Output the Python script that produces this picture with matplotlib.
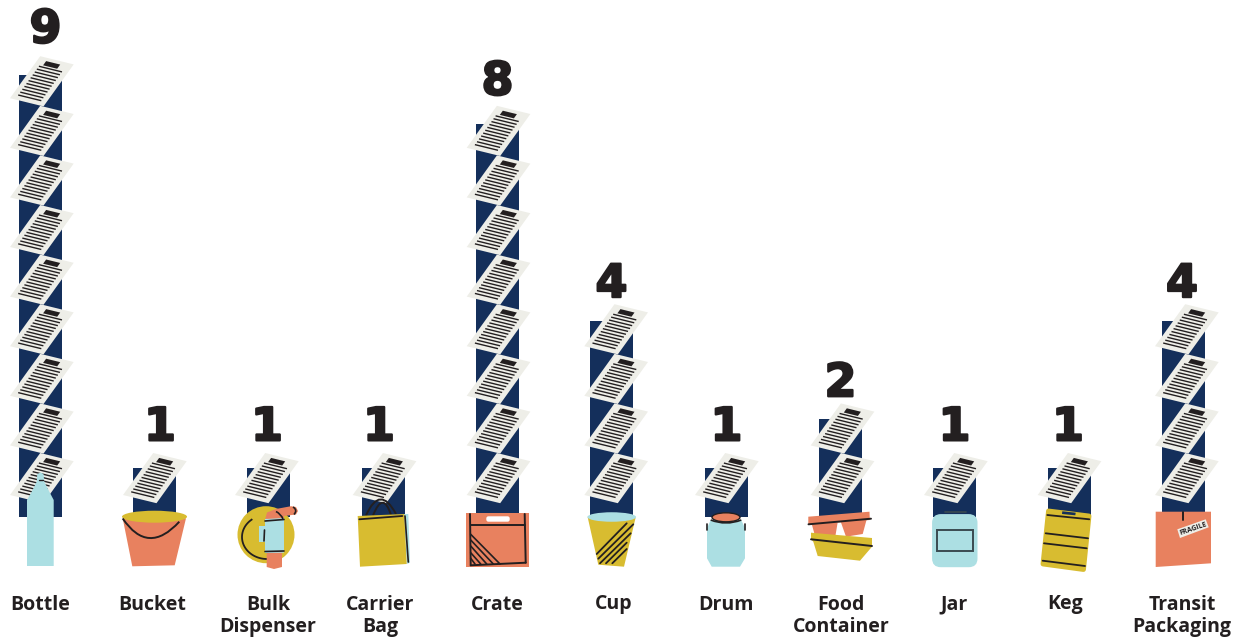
import numpy as np
import matplotlib
matplotlib.use("Agg")
import matplotlib.pyplot as plt
import matplotlib.patheffects as pe
from matplotlib.patches import Polygon, Ellipse, Circle, FancyBboxPatch, PathPatch, Rectangle
from matplotlib.path import Path

categories = ["Bottle", "Bucket", "Bulk\nDispenser", "Carrier\nBag", "Crate", "Cup",
              "Drum", "Food\nContainer", "Jar", "Keg", "Transit\nPackaging"]
counts = [9, 1, 1, 1, 8, 4, 1, 2, 1, 1, 4]

bar_x = [40.5, 154.5, 268.5, 383.5, 497.5, 611.5, 726.5, 840.5, 954.5, 1069.5, 1183.5]
paper_dx = [1, 0, -2, 0.7, 0.7, 4.3, 0, 1.7, 1, -0.3, 3]
label_dx = [5, 5.5, -1.5, -4.5, 0, 0, 0, 0, 0, -1.5, -1.5]
label_pad = [45, 40, 40, 40, 42, 36, 40, 35, 40, 40, 36]
text_x = [40, 152, 268, 380, 497, 614, 726, 841, 954, 1065, 1182]

NAVY = "#142F5B"
CORAL = "#E8815F"
YELLOW = "#D8BC30"
BLUE = "#ACDFE3"
PAPER = "#EEEEE8"
INK = "#231F20"

W, H = 1245, 637
BASE_Y = 517
UNIT = 49.1
PAPER_STEP = 49.6

fig = plt.figure(figsize=(W / 100, H / 100), dpi=100, facecolor="white")

# bars, value scale
ax = fig.add_axes([0, 0, 1, 1])
ax.set_xlim(0, W)
ax.set_ylim(-(H - BASE_Y) / UNIT, BASE_Y / UNIT)
ax.axis("off")
ax.bar(bar_x, counts, width=43, color=NAVY)

# papers and icons, pixel scale
deco = fig.add_axes([0, 0, 1, 1])
deco.set_xlim(0, W)
deco.set_ylim(H, 0)
deco.axis("off")
deco.patch.set_alpha(0)


def poly(pts, color, z=3):
    deco.add_patch(Polygon(pts, closed=True, facecolor=color, edgecolor="none", zorder=z))


def seg(x0, y0, x1, y1, lw=1.4, color=INK, z=5):
    deco.plot([x0, x1], [y0, y1], color=color, lw=lw, zorder=z, solid_capstyle="round")


def curve(p0, c, p1, lw=1.4, color=INK, z=5):
    path = Path([p0, c, p1], [Path.MOVETO, Path.CURVE3, Path.CURVE3])
    deco.add_patch(PathPatch(path, facecolor="none", edgecolor=color, lw=lw, zorder=z))


def paper(cx, y):
    # sheet is skewed, u runs along the lines and v up the page
    o = np.array([cx - 31.5, y + 27])
    u = np.array([33.5, 8.2])
    v = np.array([30.2, -42.0])
    at = lambda a, b: o + u * a + v * b
    poly([at(0, 0), at(1, 0), at(1, 1), at(0, 1)], PAPER, 2)
    poly([at(0.24, 0.93), at(0.66, 0.93), at(0.66, 0.83), at(0.24, 0.83)], INK, 2.5)
    for t in np.linspace(0.105, 0.79, 11):
        p = at(0.15, t)
        q = at(0.84, t)
        deco.plot([p[0], q[0]], [p[1], q[1]], color=INK, lw=1.0, zorder=2.5, solid_capstyle="butt")


for x, dx, n in zip(bar_x, paper_dx, counts):
    for k in range(n):
        paper(x + dx, 468 - PAPER_STEP * k)

# bottle
poly([(27, 566), (53.7, 566), (53.7, 500), (50, 493), (44.3, 481.7), (43.5, 474), (40.5, 472.5),
      (37.3, 474), (36.7, 481.7), (31, 493), (27, 500)], BLUE)
seg(38.5, 479.7, 42.7, 479.7, 1.0)

# bucket
poly([(122.7, 518.3), (186, 518.3), (174.7, 565.3), (132.3, 566.3)], CORAL)
deco.add_patch(Ellipse((154.5, 516.7), 65, 12, color=YELLOW, lw=0, zorder=3.5))
curve((122.7, 518.5), (148, 556), (179.3, 521.7))

# bulk dispenser
deco.add_patch(Circle((266, 534.7), 28.5, color=YELLOW, lw=0, zorder=3))
t = np.radians(np.linspace(128, 270, 40))
deco.plot(267 + 25 * np.cos(t), 537 - 22 * np.sin(t), color=INK, lw=1.3, zorder=3.2)
poly([(265, 520), (267, 512.5), (276, 509), (291, 506.2), (296, 507), (298, 511), (296, 514.5),
      (284, 516), (284, 524), (265, 524)], CORAL, 3.5)
poly([(266.7, 552), (282, 552), (282, 567), (274, 569), (266.7, 567)], CORAL, 3.5)
poly([(265, 519), (284, 518), (284, 552.7), (265, 553)], BLUE, 4)
poly([(259, 526), (265, 526), (265, 541.7), (259, 541.7)], BLUE, 4)
seg(265, 521, 284, 519.5, 1.2)
seg(265, 551.5, 284, 551, 1.2)
seg(264.5, 530, 264, 541, 1.2)
curve((276, 511.5), (281, 514), (283, 519), 1.2)
curve((293, 507), (298, 510), (294, 514.5), 1.2)

# carrier bag
curve((366, 515.5), (380, 484), (396, 514), 1.4, z=3.2)
curve((373, 515.5), (383, 490), (391, 515), 1.4, z=3.2)
poly([(404, 514), (408.3, 514), (410, 562.7), (406.7, 564)], BLUE)
poly([(357.7, 516), (404.3, 514), (406.7, 564), (360, 566.7)], YELLOW, 3.5)
seg(359.3, 519.3, 402.3, 516, 1.3)
seg(405, 516, 408.3, 562, 1.2)

# crate
poly([(466, 513), (529, 513), (529, 567), (466, 567)], CORAL)
deco.add_patch(FancyBboxPatch((487, 517), 22, 4, boxstyle="round,pad=0,rounding_size=1.5",
                              facecolor="white", edgecolor="white", lw=1, zorder=4))
seg(470, 514, 470.7, 565.3)
seg(524.7, 514, 525.7, 562.7)
seg(470.7, 525.3, 524.7, 525.3)
seg(470.7, 565.3, 525.7, 562.7)
for y0, x1 in [(534.3, 500), (540, 493.3), (546, 486.7), (552.7, 480.7), (558.3, 475)]:
    seg(470.7, y0, x1, 564, 1.2)

# cup
poly([(587.7, 517.3), (635.7, 517.3), (624, 566.7), (598.3, 564.7)], YELLOW)
deco.add_patch(Ellipse((611.7, 517), 48.7, 9.5, color=BLUE, lw=0, zorder=3.5))
for a, b, c, d in [(596.7, 554, 626.7, 523.3), (598.3, 558.7, 633.3, 524.3), (600, 563.3, 630.7, 533.3),
                   (606, 563.3, 626.7, 542.7), (612.3, 563.3, 626.7, 549)]:
    seg(a, b, c, d, 1.3)

# drum
poly([(710.7, 520), (741.3, 520), (745, 528.3), (745, 558.3), (740, 566.7), (711.7, 566.7),
      (707, 558.3), (707, 528.3)], BLUE)
curve((710.7, 520), (726, 526), (741.3, 520), 1.2)
deco.add_patch(Ellipse((726, 517.3), 28, 9, facecolor=CORAL, edgecolor=INK, lw=1, zorder=4))
seg(707, 523.5, 707, 529.5, 1.2)
seg(745, 523.5, 745, 529.5, 1.2)

# food container
poly([(811.7, 524), (837.7, 522.3), (835, 538.3), (816, 539.3)], CORAL)
poly([(840.7, 521.7), (866.7, 519.3), (862.7, 534), (846, 536.7)], CORAL)
poly([(808.3, 516.7), (869.5, 511.7), (869.8, 520), (808.3, 525)], CORAL, 3.5)
seg(808.5, 524.3, 871, 518.7, 1.4)
poly([(811, 532.7), (872, 538), (872, 546.7), (860, 560.7), (817.7, 556), (813.3, 541.7), (811, 539.3)], YELLOW, 3.5)
seg(811, 539.3, 872, 546, 1.4)

# jar
deco.add_patch(FancyBboxPatch((932.8, 514.8), 44, 51.7, boxstyle="round,pad=0,rounding_size=8",
                              facecolor=BLUE, edgecolor=BLUE, lw=1, zorder=3))
seg(945, 511.8, 965.7, 511.8, 1.2, "#3A4A50")
deco.add_patch(Rectangle((937, 530), 35.7, 21.3, facecolor="none", edgecolor="#3A4A50", lw=1.4, zorder=4))

# keg
deco.add_patch(Polygon([(1048.5, 511), (1089, 516), (1083.5, 569.5), (1043, 564)], closed=True,
                       facecolor=YELLOW, edgecolor=YELLOW, lw=3.5, joinstyle="round", zorder=3))
poly([(1062.3, 511.3), (1075.7, 512.7), (1075.3, 515.3), (1062, 514)], NAVY, 4)
for a, b, c, d in [(1047.3, 515, 1089.3, 519.3), (1045.7, 533.3, 1088, 538.3),
                   (1044, 543.3, 1086.7, 548.3), (1042.7, 560.7, 1085, 566)]:
    seg(a, b, c, d, 1.3)

# transit packaging
poly([(1155.7, 511.7), (1211, 511.7), (1211, 563.3), (1155.7, 567)], CORAL)
seg(1183.3, 512, 1183.3, 519.5, 1.4)
poly([(1177.3, 529.3), (1205.7, 519.3), (1208.7, 527.3), (1180, 538)], PAPER, 4)
deco.text(1193, 528.7, "FRAGILE", fontsize=5, fontweight="bold", family="Open Sans", color=INK,
          rotation=19, ha="center", va="center", zorder=5)

# value labels above each stack
for x, dx, pad, n in zip(bar_x, label_dx, label_pad, counts):
    ax.annotate(str(n), (x + dx, n), xytext=(0, pad), textcoords="offset pixels", ha="center",
                va="center", fontsize=33, fontweight="bold", family="DejaVu Sans", color=INK,
                path_effects=[pe.withStroke(linewidth=1.6, foreground=INK)])

# category labels
for x, name in zip(text_x, categories):
    for i, line in enumerate(name.split("\n")):
        deco.text(x, 604.5 + 22.5 * i, line, fontsize=14, fontweight="bold", family="Open Sans",
                  color=INK, ha="center", va="center")

fig.savefig("out.png", dpi=100)
